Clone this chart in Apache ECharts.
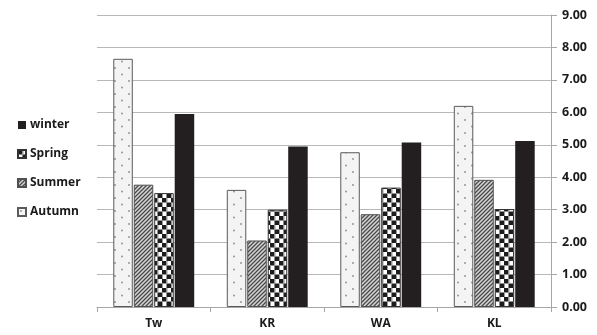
<!DOCTYPE html>
<html>
<head>
<meta charset="utf-8">
<script src="https://cdn.jsdelivr.net/npm/echarts@6/dist/echarts.min.js"></script>
<style>
  html, body { margin: 0; padding: 0; background: #fff; }
  #chart { width: 597px; height: 335px; }
</style>
</head>
<body>
<div id="chart"></div>
<script>
// Sites and seasonal values
const categories = ['Tw', 'KR', 'WA', 'KL'];
const autumn = [7.65, 3.61, 4.77, 6.20];
const summer = [3.77, 2.05, 2.86, 3.92];
const spring = [3.51, 3.00, 3.68, 3.02];
const winter = [5.95, 4.95, 5.07, 5.12];
const legendOrder = ['winter', 'Spring', 'Summer', 'Autumn'];

// Small canvas tiles used as repeating bar fills
function tile(w, h, draw) {
  const c = document.createElement('canvas');
  c.width = w; c.height = h;
  draw(c.getContext('2d'), w, h);
  return { image: c, repeat: 'repeat' };
}

const dotted = tile(14, 13, (g, w, h) => {
  g.fillStyle = '#f4f4f4'; g.fillRect(0, 0, w, h);
  g.fillStyle = '#8c8c8c';
  g.beginPath(); g.arc(3, 3, 0.9, 0, Math.PI * 2); g.fill();
  g.beginPath(); g.arc(10, 9.5, 0.9, 0, Math.PI * 2); g.fill();
});

const hatched = tile(4, 4, (g, w, h) => {
  g.fillStyle = '#d6d6d6'; g.fillRect(0, 0, w, h);
  g.strokeStyle = '#4a4a4a'; g.lineWidth = 1.3;
  g.beginPath();
  g.moveTo(-1, 5); g.lineTo(5, -1);
  g.moveTo(-1, 1); g.lineTo(1, -1);
  g.moveTo(3, 5); g.lineTo(5, 3);
  g.stroke();
});

const checker = tile(9, 9, (g, w, h) => {
  g.fillStyle = '#ffffff'; g.fillRect(0, 0, w, h);
  g.fillStyle = '#1c1c1c';
  g.fillRect(0, 0, 4.5, 4.5); g.fillRect(4.5, 4.5, 4.5, 4.5);
  g.fillStyle = '#9a9a9a';
  g.fillRect(4.5, 0, 1, 4.5); g.fillRect(0, 4.5, 1, 4.5);
});

function barSeries(name, data, color, border) {
  return {
    name, type: 'bar', data,
    barWidth: 19.5, barGap: '5%',
    itemStyle: { color, borderColor: border, borderWidth: border ? 1 : 0 }
  };
}

const labelFont = { fontFamily: 'Open Sans, Liberation Sans, sans-serif', fontWeight: 'bold', color: '#1a1a1a' };

const chart = echarts.init(document.getElementById('chart'));
chart.setOption({
  animation: false,
  textStyle: { fontFamily: 'Open Sans, Liberation Sans, sans-serif' },
  legend: {
    data: legendOrder,
    icon: 'rect',
    orient: 'vertical',
    left: 12, top: 112,
    itemWidth: 8, itemHeight: 8, itemGap: 13,
    textStyle: Object.assign({ fontSize: 12, lineHeight: 16, padding: [0, 0, 0, -1] }, labelFont)
  },
  grid: { left: 97, right: 46, top: 15, bottom: 28 },
  xAxis: {
    type: 'category', data: categories,
    axisLine: { lineStyle: { color: '#a6a6a6' } },
    axisTick: { show: true, length: 5, lineStyle: { color: '#a6a6a6' } },
    axisLabel: Object.assign({ fontSize: 12, margin: 11 }, labelFont)
  },
  yAxis: {
    type: 'value', position: 'right', min: 0, max: 9, interval: 1,
    axisLine: { show: true, lineStyle: { color: '#a6a6a6' } },
    axisTick: { show: true, length: 6, lineStyle: { color: '#a6a6a6' } },
    axisLabel: Object.assign({ fontSize: 12.5, margin: 11,
      formatter: v => v.toFixed(2) }, labelFont),
    splitLine: { lineStyle: { color: '#b8b8b8' } }
  },
  series: [
    barSeries('Autumn', autumn, dotted, '#5a5a5a'),
    barSeries('Summer', summer, hatched, '#505050'),
    barSeries('Spring', spring, checker, '#333333'),
    barSeries('winter', winter, '#231f20', null)
  ]
});
</script>
</body>
</html>
